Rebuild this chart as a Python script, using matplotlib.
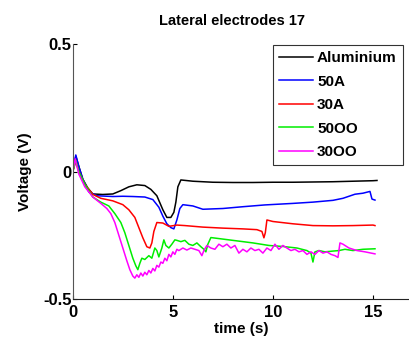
import matplotlib
matplotlib.use('Agg')
import matplotlib.pyplot as plt

## Data (time in s, voltage in V)
## =====================================================
series_names = ['Aluminium', '50A', '30A', '50OO', '30OO']
series_colors = ['black', 'blue', 'red', '#00ee00', 'magenta']

t_al = [0, 0.15, 0.3, 0.5, 0.75, 1.0, 1.5, 2.0, 2.4, 2.8, 3.2, 3.6, 3.9, 4.2, 4.5, 4.7,
        4.9, 5.05, 5.15, 5.25, 5.4, 6, 7, 8, 9, 10, 11, 12, 13, 14, 15, 15.2]
v_al = [0, 0.06, 0.02, -0.03, -0.065, -0.088, -0.09, -0.088, -0.075, -0.06, -0.052, -0.055,
        -0.07, -0.095, -0.15, -0.18, -0.18, -0.16, -0.12, -0.06, -0.033, -0.038, -0.042,
        -0.043, -0.043, -0.042, -0.042, -0.041, -0.04, -0.038, -0.036, -0.035]

t_50a = [0, 0.15, 0.3, 0.5, 0.8, 1.2, 2.0, 2.5, 3.0, 3.6, 4.0, 4.3, 4.5, 4.7, 4.9, 5.05,
         5.2, 5.35, 5.5, 6.0, 6.5, 7.5, 8.5, 9.6, 11, 12, 13, 13.5, 14.1, 14.5, 14.85,
         14.95, 15.1]
v_50a = [0, 0.065, 0.02, -0.03, -0.08, -0.095, -0.098, -0.097, -0.098, -0.1, -0.11, -0.14,
         -0.175, -0.205, -0.22, -0.225, -0.19, -0.145, -0.13, -0.135, -0.148, -0.145,
         -0.138, -0.131, -0.125, -0.12, -0.113, -0.105, -0.089, -0.085, -0.078, -0.108,
         -0.112]

t_30a = [0, 0.15, 0.3, 0.6, 1.0, 1.4, 2.0, 2.5, 2.8, 3.1, 3.3, 3.5, 3.7, 3.85, 3.95, 4.05,
         4.2, 4.5, 4.8, 5.2, 5.6, 6.5, 7.5, 8.5, 9.2, 9.45, 9.55, 9.62, 9.7, 10.0, 11, 12,
         13, 14, 15, 15.1]
v_30a = [0, 0.04, 0.0, -0.05, -0.09, -0.105, -0.115, -0.13, -0.15, -0.18, -0.22, -0.26,
         -0.295, -0.3, -0.28, -0.235, -0.2, -0.202, -0.215, -0.21, -0.212, -0.218, -0.222,
         -0.225, -0.228, -0.235, -0.26, -0.24, -0.19, -0.196, -0.205, -0.212, -0.213,
         -0.212, -0.21, -0.212]

t_50oo = [0, 0.15, 0.3, 0.6, 1.0, 1.4, 1.8, 2.1, 2.4, 2.6, 2.8, 3.0, 3.15, 3.25, 3.35,
          3.45, 3.6, 3.8, 3.95, 4.1, 4.2, 4.3, 4.45, 4.55, 4.65, 4.8, 4.95, 5.1, 5.2, 5.4,
          5.6, 5.8, 6.0, 6.2, 6.4, 6.55, 6.65, 6.75, 6.9, 7.5, 8.2, 9.0, 9.8, 10.5, 11.2,
          11.7, 11.9, 12.0, 12.1, 12.3, 12.6, 13.0, 13.3, 13.6, 14.0, 14.5, 15.1]
v_50oo = [0, 0.045, 0.0, -0.05, -0.1, -0.12, -0.135, -0.165, -0.2, -0.24, -0.29, -0.34,
          -0.37, -0.385, -0.36, -0.34, -0.345, -0.33, -0.34, -0.3, -0.31, -0.335, -0.3,
          -0.268, -0.29, -0.3, -0.285, -0.268, -0.27, -0.275, -0.27, -0.285, -0.29, -0.28,
          -0.295, -0.305, -0.315, -0.285, -0.259, -0.265, -0.272, -0.28, -0.29, -0.294,
          -0.3, -0.31, -0.32, -0.355, -0.315, -0.31, -0.315, -0.312, -0.31, -0.305, -0.31,
          -0.305, -0.303]

t_30oo = [0, 0.12, 0.3, 0.6, 1.0, 1.4, 1.7, 1.9, 2.1, 2.3, 2.5, 2.7, 2.85, 3.0, 3.1, 3.2,
          3.3, 3.4, 3.5, 3.6, 3.7, 3.8, 3.9, 4.0, 4.1, 4.2, 4.3, 4.4, 4.5, 4.6, 4.7, 4.8,
          4.9, 5.0, 5.1, 5.2, 5.3, 5.5, 5.7, 5.9, 6.1, 6.3, 6.45, 6.55, 6.7, 6.9, 7.1, 7.3,
          7.5, 7.7, 7.9, 8.1, 8.3, 8.5, 8.7, 8.9, 9.1, 9.3, 9.5, 9.7, 9.9, 10.1, 10.3,
          10.5, 10.7, 10.9, 11.1, 11.3, 11.5, 11.7, 11.9, 12.1, 12.3, 12.5, 12.7, 12.9,
          13.1, 13.25, 13.35, 13.5, 13.8, 14.2, 14.6, 15.1]
v_30oo = [0, 0.05, -0.01, -0.06, -0.1, -0.125, -0.145, -0.165, -0.2, -0.25, -0.3, -0.35,
          -0.385, -0.41, -0.418, -0.405, -0.415, -0.398, -0.41, -0.395, -0.405, -0.388,
          -0.398, -0.38, -0.39, -0.368, -0.375, -0.355, -0.36, -0.34, -0.35, -0.325,
          -0.335, -0.315, -0.325, -0.305, -0.31, -0.3, -0.308, -0.3, -0.305, -0.31, -0.33,
          -0.31, -0.29, -0.3, -0.305, -0.285, -0.295, -0.285, -0.3, -0.29, -0.32, -0.305,
          -0.315, -0.3, -0.31, -0.305, -0.32, -0.3, -0.31, -0.285, -0.305, -0.29, -0.3,
          -0.31, -0.305, -0.315, -0.31, -0.325, -0.315, -0.325, -0.31, -0.32, -0.315,
          -0.325, -0.33, -0.337, -0.28, -0.285, -0.3, -0.31, -0.315, -0.323]

x_ticks = [0, 5, 10, 15]
y_ticks = [-0.5, 0, 0.5]
y_ticklabels = ['-0.5', '0', '0.5']

## Plot
## =====================================================
plt.rcParams['font.family'] = ['Liberation Sans', 'DejaVu Sans']
plt.rcParams['font.weight'] = 'bold'

fig = plt.figure(figsize=(4.09, 3.39), dpi=100)
ax = fig.add_axes([0.178, 0.118, 0.822, 0.752])

all_t = [t_al, t_50a, t_30a, t_50oo, t_30oo]
all_v = [v_al, v_50a, v_30a, v_50oo, v_30oo]
for t, v, name, col in zip(all_t, all_v, series_names, series_colors):
    ax.plot(t, v, color=col, linewidth=1.1, label=name)

ax.set_xlim(0, 16.8)
ax.set_ylim(-0.5, 0.5)
ax.set_xticks(x_ticks)
ax.set_yticks(y_ticks)
ax.set_yticklabels(y_ticklabels)
ax.tick_params(direction='in', length=3, labelsize=12, width=0.8)
ax.tick_params(axis='y', pad=1)
ax.tick_params(axis='x', pad=4)
for lab in ax.get_xticklabels() + ax.get_yticklabels():
    lab.set_fontweight('bold')
ax.spines['top'].set_visible(False)
ax.spines['right'].set_visible(False)
ax.spines['left'].set_color('#555555')
ax.spines['bottom'].set_color('#222222')

ax.set_xlabel('time (s)', fontsize=11, fontweight='bold', labelpad=2)
ax.set_ylabel('Voltage (V)', fontsize=11, fontweight='bold', labelpad=8)
ax.set_title('Lateral electrodes 17', fontsize=10.5, fontweight='bold', x=0.473, pad=14)

leg = ax.legend(loc='upper right', bbox_to_anchor=(0.982, 0.996), fontsize=11,
                frameon=True, fancybox=False, edgecolor='black', handlelength=2.2,
                handletextpad=0.3, borderpad=0.4, labelspacing=0.62, borderaxespad=0)
leg.get_frame().set_linewidth(0.8)
for txt in leg.get_texts():
    txt.set_fontweight('bold')

fig.savefig('out.png', dpi=100)
